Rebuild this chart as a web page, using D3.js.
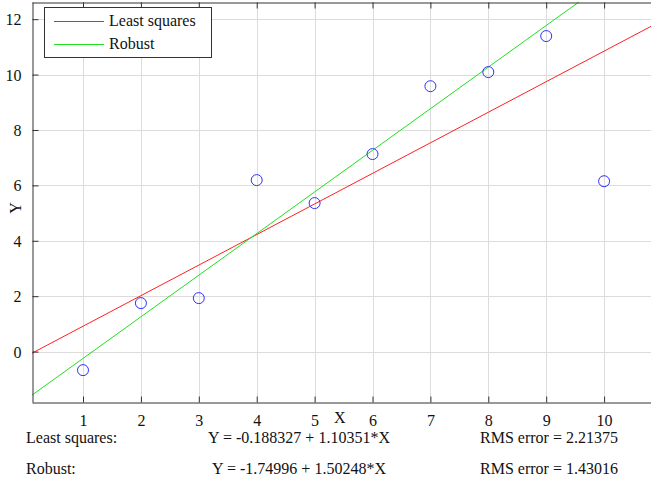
<!DOCTYPE html>
<html>
<head>
<meta charset="utf-8">
<script src="https://cdn.jsdelivr.net/npm/d3@7"></script>
<style>
  body { margin: 0; background: #fff; }
  text { font-family: "Liberation Serif", "Times New Roman", serif; fill: #111; }
  .grid line { stroke: #dcdcdc; stroke-width: 1; }
</style>
</head>
<body>
<div id="chart"></div>
<script>
var xs = [1, 2, 3, 4, 5, 6, 7, 8, 9, 10];
var ys = [-0.67, 1.75, 1.93, 6.19, 5.36, 7.13, 9.58, 10.09, 11.39, 6.15];
var xTicks = [1, 2, 3, 4, 5, 6, 7, 8, 9, 10];
var yTicks = [0, 2, 4, 6, 8, 10, 12];
var fitNames = ["Least squares", "Robust"];
var fitIntercepts = [-0.188327, -1.74996];
var fitSlopes = [1.10351, 1.50248];
var fitColors = ["#ff2020", "#20e020"];
var eqLabels = ["Y = -0.188327 + 1.10351*X", "Y = -1.74996 + 1.50248*X"];
var rmsLabels = ["RMS error = 2.21375", "RMS error = 1.43016"];

var width = 651, height = 487;
var pLeft = 32, pRight = 651, pTop = 2, pBottom = 402;
var fs = 16;

var svg = d3.select("#chart").append("svg")
  .attr("width", width).attr("height", height);

var x = d3.scaleLinear().domain([0.119, 10.81]).range([pLeft, pRight]);
var y = d3.scaleLinear().domain([-1.82, 12.62]).range([pBottom, pTop]);

svg.append("clipPath").attr("id", "clip")
  .append("rect").attr("x", pLeft).attr("y", pTop)
  .attr("width", pRight - pLeft).attr("height", pBottom - pTop);

// grid
var grid = svg.append("g").attr("class", "grid");
grid.selectAll(".gx").data(xTicks).enter().append("line")
  .attr("x1", d => Math.round(x(d)) + 0.5).attr("x2", d => Math.round(x(d)) + 0.5)
  .attr("y1", pTop).attr("y2", pBottom);
grid.selectAll(".gy").data(yTicks).enter().append("line")
  .attr("y1", d => Math.round(y(d)) + 0.5).attr("y2", d => Math.round(y(d)) + 0.5)
  .attr("x1", pLeft).attr("x2", pRight);

// fit lines
var plot = svg.append("g").attr("clip-path", "url(#clip)");
var xd = x.domain();
fitNames.forEach(function(n, i) {
  plot.append("line")
    .attr("x1", x(xd[0])).attr("y1", y(fitIntercepts[i] + fitSlopes[i] * xd[0]))
    .attr("x2", x(xd[1])).attr("y2", y(fitIntercepts[i] + fitSlopes[i] * xd[1]))
    .attr("stroke", fitColors[i]).attr("stroke-width", 1);
});

// points
plot.selectAll("circle").data(xs).enter().append("circle")
  .attr("cx", (d, i) => x(d)).attr("cy", (d, i) => y(ys[i]))
  .attr("r", 5.5).attr("fill", "none").attr("stroke", "#3030ff").attr("stroke-width", 1);

// axes
var axisColor = "#333";
var xAxis = svg.append("g").attr("transform", "translate(0," + (pBottom + 0.5) + ")")
  .call(d3.axisBottom(x).tickValues(xTicks).tickSize(-6).tickPadding(12).tickSizeOuter(0));
var xTop = svg.append("g").attr("transform", "translate(0," + (pTop + 0.5) + ")")
  .call(d3.axisTop(x).tickValues(xTicks).tickSize(-6).tickFormat("").tickSizeOuter(0));
var yAxis = svg.append("g").attr("transform", "translate(" + (pLeft + 0.5) + ",0)")
  .call(d3.axisLeft(y).tickValues(yTicks).tickSize(-6).tickPadding(11).tickSizeOuter(0));
[xAxis, xTop, yAxis].forEach(function(g) {
  g.select(".domain").attr("stroke", axisColor);
  g.selectAll(".tick line").attr("stroke", axisColor);
  g.selectAll("text").style("font-family", "Liberation Serif").attr("font-size", fs).attr("fill", "#111");
});
yAxis.selectAll(".tick text").attr("dy", "0.35em");

svg.append("text").attr("x", 334).attr("y", 423).attr("font-size", fs).text("X");
svg.append("text").attr("transform", "translate(21,208) rotate(-90)")
  .attr("text-anchor", "middle").attr("font-size", fs).text("Y");

// legend
var lg = svg.append("g");
lg.append("rect").attr("x", 44.5).attr("y", 7.5).attr("width", 167).attr("height", 50)
  .attr("fill", "#fff").attr("stroke", "#333");
fitNames.forEach(function(n, i) {
  var ly = 21 + i * 23;
  lg.append("line").attr("x1", 54).attr("x2", 104).attr("y1", ly + 0.5).attr("y2", ly + 0.5)
    .attr("stroke", fitColors[i]);
  lg.append("text").attr("x", 109).attr("y", ly + 5).attr("font-size", fs).text(n);
});

// summary text
fitNames.forEach(function(n, i) {
  var ty = 443 + i * 31;
  svg.append("text").attr("x", 26).attr("y", ty).attr("font-size", fs).text(n + ":");
  svg.append("text").attr("x", 299).attr("y", ty).attr("text-anchor", "middle").attr("font-size", fs).text(eqLabels[i]);
  svg.append("text").attr("x", 549).attr("y", ty).attr("text-anchor", "middle").attr("font-size", fs).text(rmsLabels[i]);
});
</script>
</body>
</html>
